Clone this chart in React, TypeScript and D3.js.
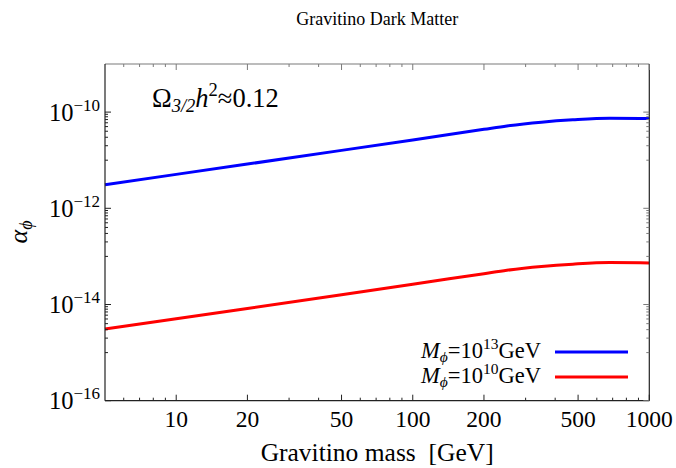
import React from "react";
import * as d3 from "d3";

// gravitino mass [GeV] and the matching alpha_phi values
const massGeV = [5, 10, 20, 50, 100, 200, 250, 350, 475, 680, 1000];
const alphaM13 = [3.1e-12, 5.07e-12, 8.3e-12, 1.6e-11, 2.64e-11, 4.38e-11, 5.15e-11, 6.17e-11, 6.9e-11, 7.46e-11, 7.33e-11];
const alphaM10 = [3.1e-15, 5.07e-15, 8.3e-15, 1.6e-14, 2.64e-14, 4.38e-14, 5.15e-14, 6.17e-14, 6.9e-14, 7.46e-14, 7.33e-14];

const xMajor = [10, 20, 50, 100, 200, 500, 1000];
const xMinor = [6, 7, 8, 9, 30, 40, 60, 70, 80, 90, 300, 400, 600, 700, 800, 900];
const yMajorExp = [-16, -14, -12, -10];
const yMinorMult = [1, 2, 3, 4, 5, 6, 7, 8, 9];

const width = 676;
const height = 468;
const margin = { top: 64, right: 26.7, bottom: 67.3, left: 105 };
const font = "Liberation Serif";

function App() {
    const x = d3.scaleLog().domain([5, 1000]).range([margin.left, width - margin.right]);
    const y = d3.scaleLog().domain([1e-16, 1e-9]).range([height - margin.bottom, margin.top]);

    const x0 = margin.left;
    const x1 = width - margin.right;
    const y0 = height - margin.bottom;
    const y1 = margin.top;

    const line = d3
        .line<number>()
        .x((_, i) => x(massGeV[i]))
        .y(d => y(d))
        .curve(d3.curveMonotoneX);

    const yMinor: number[] = [];
    yMajorExp.forEach(e => {
        yMinorMult.forEach(m => {
            const v = m * Math.pow(10, e - 1);
            if (v >= 1e-16 && v <= 1e-9) yMinor.push(v);
        });
    });

    const dark = "#222";
    const grey = "#7a7a7a";

    return (
        <svg width={width} height={height} style={{ position: "absolute", left: 0, top: 0 }}>
            <rect width={width} height={height} fill="#fff" />

            {/* curves */}
            <path d={line(alphaM13) ?? ""} fill="none" stroke="#0000ff" strokeWidth={3} />
            <path d={line(alphaM10) ?? ""} fill="none" stroke="#ff0000" strokeWidth={3} />

            {/* frame */}
            <line x1={x0} x2={x1} y1={y1} y2={y1} stroke={grey} strokeWidth={1.2} />
            <line x1={x1} x2={x1} y1={y1} y2={y0} stroke={dark} strokeWidth={1.2} />
            <line x1={x0} x2={x0} y1={y1} y2={y0} stroke={dark} strokeWidth={1.2} />
            <line x1={x0} x2={x1} y1={y0} y2={y0} stroke={dark} strokeWidth={1.2} />

            {/* x ticks */}
            {xMajor.map(v => (
                <g key={"xM" + v}>
                    <line x1={x(v)} x2={x(v)} y1={y0} y2={y0 - 6} stroke={dark} />
                    <line x1={x(v)} x2={x(v)} y1={y1} y2={y1 + 6} stroke={grey} />
                    <text x={x(v)} y={427} textAnchor="middle" fontSize={23.5} fontFamily={font}>{v}</text>
                </g>
            ))}
            {xMinor.map(v => (
                <g key={"xm" + v}>
                    <line x1={x(v)} x2={x(v)} y1={y0} y2={y0 - 3} stroke={dark} />
                    <line x1={x(v)} x2={x(v)} y1={y1} y2={y1 + 3} stroke={grey} />
                </g>
            ))}

            {/* y ticks */}
            {yMajorExp.map(e => {
                const v = Math.pow(10, e);
                return (
                    <g key={"yM" + e}>
                        <line x1={x0} x2={x0 + 6} y1={y(v)} y2={y(v)} stroke={dark} />
                        <line x1={x1} x2={x1 - 6} y1={y(v)} y2={y(v)} stroke={grey} />
                        <text x={100} y={y(v) + 8.5} textAnchor="end" fontSize={24.5} fontFamily={font}>
                            10<tspan fontSize={17} dy={-10}>{"\u2212" + Math.abs(e)}</tspan>
                        </text>
                    </g>
                );
            })}
            {yMinor.map((v, i) => (
                <g key={"ym" + i}>
                    <line x1={x0} x2={x0 + 3} y1={y(v)} y2={y(v)} stroke={dark} />
                    <line x1={x1} x2={x1 - 3} y1={y(v)} y2={y(v)} stroke={grey} />
                </g>
            ))}

            {/* title and axis labels */}
            <text x={(x0 + x1) / 2} y={25} textAnchor="middle" fontSize={18} fontFamily={font}>Gravitino Dark Matter</text>
            <text x={(x0 + x1) / 2} y={461} textAnchor="middle" fontSize={25.5} fontFamily={font} style={{ whiteSpace: "pre" }}>
                {"Gravitino mass  [GeV]"}
            </text>
            <text transform="translate(27,232) rotate(-90)" textAnchor="middle" fontSize={26} fontFamily={font}>
                <tspan fontStyle="italic">α</tspan>
                <tspan fontStyle="italic" fontSize={18} dy={5}>ϕ</tspan>
            </text>

            {/* annotation */}
            <text x={152} y={107} fontSize={26.5} fontFamily={font}>
                Ω<tspan fontStyle="italic" fontSize={18.5} dy={5}>3/2</tspan>
                <tspan fontStyle="italic" dy={-5}>h</tspan>
                <tspan fontSize={18.5} dy={-11}>2</tspan>
                <tspan dy={11}>≈0.12</tspan>
            </text>

            {/* legend */}
            {[
                { label: "13", color: "#0000ff", yy: 352 },
                { label: "10", color: "#ff0000", yy: 377 },
            ].map(d => (
                <g key={d.label}>
                    <text x={541} y={d.yy + 6} textAnchor="end" fontSize={22.5} fontFamily={font}>
                        <tspan fontStyle="italic">M</tspan>
                        <tspan fontStyle="italic" fontSize={15.5} dy={4}>ϕ</tspan>
                        <tspan dy={-4}>=10</tspan>
                        <tspan fontSize={15.5} dy={-9}>{d.label}</tspan>
                        <tspan dy={9}>GeV</tspan>
                    </text>
                    <line x1={555} x2={628} y1={d.yy} y2={d.yy} stroke={d.color} strokeWidth={3} />
                </g>
            ))}
        </svg>
    );
}

export default App;
